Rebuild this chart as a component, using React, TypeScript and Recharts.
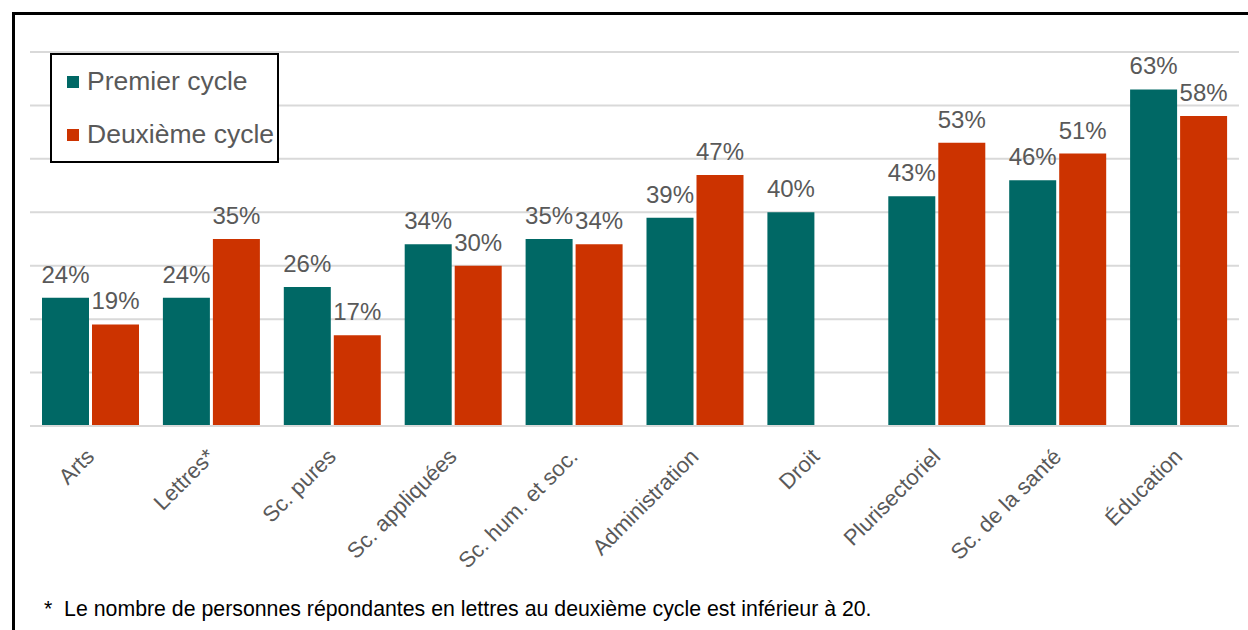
import { BarChart, Bar, XAxis, YAxis, CartesianGrid, LabelList, Legend } from "recharts";

const categories = [
  "Arts",
  "Lettres*",
  "Sc. pures",
  "Sc. appliquées",
  "Sc. hum. et soc.",
  "Administration",
  "Droit",
  "Plurisectoriel",
  "Sc. de la santé",
  "Éducation",
];

const premierCycle = [24, 24, 26, 34, 35, 39, 40, 43, 46, 63];
const deuxiemeCycle = [19, 35, 17, 30, 34, 47, null, 53, 51, 58];

const yTicks = [0, 10, 20, 30, 40, 50, 60, 70];

const data = categories.map((name, i) => ({
  name,
  premier: premierCycle[i],
  deuxieme: deuxiemeCycle[i],
}));

const TEAL = "#006865";
const ORANGE = "#CC3300";
const GREY_TEXT = "#595959";
const FONT = "Arial, 'Liberation Sans', sans-serif";

const AngledTick = (props: any) => {
  const { x, y, payload } = props;
  return (
    <text
      x={0}
      y={0}
      transform={`translate(${x + 5},${y + 30}) rotate(-45)`}
      textAnchor="end"
      fontSize={22}
      fontFamily={FONT}
      fill={GREY_TEXT}
    >
      {payload.value}
    </text>
  );
};

const LegendBox = () => {
  const items = [
    { label: "Premier cycle", color: TEAL },
    { label: "Deuxième cycle", color: ORANGE },
  ];
  return (
    <div
      style={{
        width: 229,
        height: 110,
        boxSizing: "border-box",
        border: "2px solid #000",
        background: "#fff",
        fontFamily: FONT,
      }}
    >
      {items.map((it) => (
        <div
          key={it.label}
          style={{ height: 53, display: "flex", alignItems: "center", paddingLeft: 15 }}
        >
          <span style={{ width: 12, height: 12, background: it.color, display: "inline-block", marginRight: 8 }} />
          <span style={{ fontSize: 26.5, color: GREY_TEXT, whiteSpace: "nowrap" }}>{it.label}</span>
        </div>
      ))}
    </div>
  );
};

const pct = (v: any) => (v === null || v === undefined ? "" : `${v}%`);

export default function App() {
  return (
    <div
      style={{
        position: "fixed",
        left: 0,
        top: 0,
        width: 1248,
        height: 630,
        overflow: "hidden",
        background: "#fff",
        fontFamily: FONT,
      }}
    >
      <div
        style={{
          position: "absolute",
          left: 12,
          top: 12,
          width: 1300,
          height: 700,
          borderTop: "3px solid #000",
          borderLeft: "3px solid #000",
        }}
      />
      <div style={{ position: "absolute", left: 0, top: 0 }}>
        <BarChart
          width={1248}
          height={630}
          data={data}
          margin={{ top: 52, right: 9, left: 30, bottom: 54 }}
          barCategoryGap={12}
          barGap={3}
        >
          <CartesianGrid vertical={false} stroke="#d9d9d9" strokeWidth={2} />
          <YAxis hide domain={[0, 70]} ticks={yTicks} />
          <XAxis
            dataKey="name"
            interval={0}
            height={150}
            tickSize={0}
            tickLine={false}
            axisLine={{ stroke: "#d9d9d9", strokeWidth: 2 }}
            tick={<AngledTick />}
          />
          <Legend
            layout="vertical"
            align="center"
            verticalAlign="middle"
            wrapperStyle={{ left: 50, top: 53, width: 229, height: 110 }}
            content={<LegendBox />}
          />
          <Bar dataKey="premier" fill={TEAL} isAnimationActive={false}>
            <LabelList
              dataKey="premier"
              position="top"
              offset={15}
              formatter={pct}
              fill={GREY_TEXT}
              fontSize={24}
              fontFamily={FONT}
            />
          </Bar>
          <Bar dataKey="deuxieme" fill={ORANGE} isAnimationActive={false}>
            <LabelList
              dataKey="deuxieme"
              position="top"
              offset={15}
              formatter={pct}
              fill={GREY_TEXT}
              fontSize={24}
              fontFamily={FONT}
            />
          </Bar>
        </BarChart>
      </div>
      <div
        style={{
          position: "absolute",
          left: 44,
          top: 599,
          fontSize: 21.3,
          lineHeight: "21px",
          color: "#000",
          whiteSpace: "pre",
        }}
      >
        {"*  Le nombre de personnes répondantes en lettres au deuxième cycle est inférieur à 20."}
      </div>
    </div>
  );
}
